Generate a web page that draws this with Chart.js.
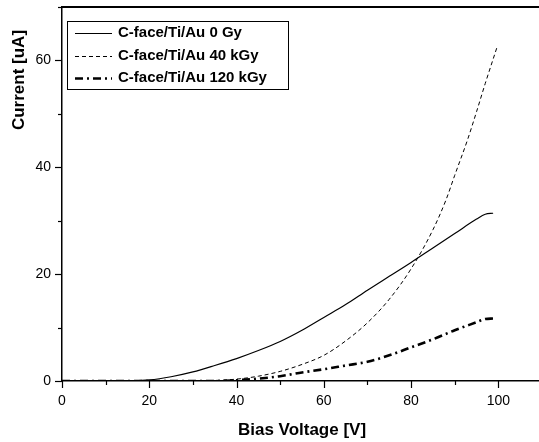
<!DOCTYPE html>
<html>
<head>
<meta charset="utf-8">
<script src="https://cdn.jsdelivr.net/npm/chart.js@4/dist/chart.umd.min.js"></script>
<style>
  html, body { margin: 0; padding: 0; background: #fff; overflow: hidden; }
  #wrap { width: 542px; height: 442px; position: relative; }
</style>
</head>
<body>
<div id="wrap"><canvas id="chart"></canvas></div>
<script>
const labels = ['C-face/Ti/Au 0 Gy', 'C-face/Ti/Au 40 kGy', 'C-face/Ti/Au 120 kGy'];

const volts0 = [0, 10, 15, 20, 25, 30, 35, 40, 45, 50, 55, 60, 65, 70, 75, 80, 85, 90, 95, 97, 98.8];
const curr0  = [0, 0, 0, 0.2, 0.8, 1.7, 2.9, 4.2, 5.7, 7.4, 9.5, 11.9, 14.3, 17.0, 19.6, 22.2, 24.9, 27.6, 30.3, 31.2, 31.4];

const volts40 = [0, 30, 35, 40, 45, 50, 55, 60, 65, 70, 75, 80, 85, 88, 90, 93, 95, 97, 99.7];
const curr40  = [0, 0, 0.1, 0.35, 0.9, 1.8, 3.1, 4.8, 7.5, 10.9, 15.3, 21.0, 28.3, 33.9, 38.5, 45.3, 50.4, 55.7, 62.5];

const volts120 = [0, 35, 40, 45, 50, 55, 60, 65, 70, 75, 80, 85, 90, 95, 97, 98.8];
const curr120  = [0, 0, 0.15, 0.45, 0.9, 1.6, 2.2, 2.9, 3.6, 4.8, 6.3, 7.8, 9.5, 11.0, 11.6, 11.7];

const xTicks = [0, 20, 40, 60, 80, 100];
const yTicks = [0, 20, 40, 60];

const FONT = '"Liberation Sans", Arial, sans-serif';

const toPoints = (xs, ys) => xs.map((x, i) => ({ x, y: ys[i] }));

// Rahmen, Ticks, Achsentitel und Legende im Plot
const decorations = {
    id: 'decorations',
    afterDraw(chart) {
        const { ctx, chartArea: a, scales: { x, y } } = chart;
        ctx.save();
        ctx.strokeStyle = '#000';
        ctx.fillStyle = '#000';

        // Rahmen oben
        ctx.lineWidth = 2;
        ctx.beginPath();
        ctx.moveTo(a.left, a.top);
        ctx.lineTo(a.right, a.top);
        ctx.stroke();

        // Ticks (gross/klein)
        ctx.lineWidth = 1.2;
        for (let v = 0; v <= 110; v += 10) {
            const px = Math.round(x.getPixelForValue(v)) + 0.5;
            const len = v % 20 === 0 ? 7 : 4;
            ctx.beginPath();
            ctx.moveTo(px, a.bottom);
            ctx.lineTo(px, a.bottom + len);
            ctx.stroke();
        }
        for (let v = 0; v <= 70; v += 10) {
            const py = Math.round(y.getPixelForValue(v)) + 0.5;
            const len = v % 20 === 0 ? 7 : 4;
            ctx.beginPath();
            ctx.moveTo(a.left, py);
            ctx.lineTo(a.left - len, py);
            ctx.stroke();
        }

        // Achsentitel
        ctx.font = 'bold 17px ' + FONT;
        ctx.textAlign = 'center';
        ctx.textBaseline = 'middle';
        ctx.fillText('Bias Voltage [V]', (a.left + a.right) / 2, 430);
        ctx.save();
        ctx.translate(19, 80);
        ctx.rotate(-Math.PI / 2);
        ctx.fillText('Current [uA]', 0, 0);
        ctx.restore();

        // Legende
        const box = { left: 67, top: 21, right: 288, bottom: 89 };
        ctx.lineWidth = 1;
        ctx.strokeRect(box.left + 0.5, box.top + 0.5, box.right - box.left, box.bottom - box.top);
        const rows = [33, 56, 78];
        ctx.font = 'bold 15px ' + FONT;
        ctx.textAlign = 'left';
        chart.data.datasets.forEach((ds, i) => {
            const ry = rows[i] + 0.5;
            ctx.save();
            ctx.lineWidth = ds.borderWidth;
            ctx.setLineDash(ds.borderDash || []);
            ctx.beginPath();
            ctx.moveTo(75, ry);
            ctx.lineTo(112, ry);
            ctx.stroke();
            ctx.restore();
            ctx.fillText(ds.label, 118, rows[i]);
        });
        ctx.restore();
    }
};

new Chart(document.getElementById('chart'), {
    type: 'line',
    data: {
        datasets: [
            {
                label: labels[0],
                data: toPoints(volts0, curr0),
                borderColor: '#000',
                borderWidth: 1.2,
                borderDash: []
            },
            {
                label: labels[1],
                data: toPoints(volts40, curr40),
                borderColor: '#000',
                borderWidth: 1,
                borderDash: [4, 3]
            },
            {
                label: labels[2],
                data: toPoints(volts120, curr120),
                borderColor: '#000',
                borderWidth: 2.6,
                borderDash: [8, 4, 2, 4]
            }
        ]
    },
    options: {
        responsive: true,
        maintainAspectRatio: false,
        animation: false,
        layout: { padding: { top: 7, right: 0, left: 0, bottom: 0 } },
        elements: {
            point: { radius: 0 },
            line: { tension: 0.4, cubicInterpolationMode: 'monotone', fill: false }
        },
        plugins: {
            legend: { display: false },
            tooltip: { enabled: false }
        },
        scales: {
            x: {
                type: 'linear',
                min: 0,
                max: 110,
                afterFit: (s) => { s.height = 61; s.paddingLeft = 0; s.paddingRight = 0; },
                grid: { display: false, drawTicks: false },
                border: { display: true, color: '#000', width: 1.5 },
                ticks: {
                    stepSize: 20,
                    padding: 12,
                    color: '#000',
                    font: { family: FONT, size: 14 },
                    callback: (v) => xTicks.includes(v) ? String(v) : ''
                }
            },
            y: {
                min: 0,
                max: 70,
                afterFit: (s) => { s.width = 62; s.paddingTop = 0; s.paddingBottom = 0; },
                grid: { display: false, drawTicks: false },
                border: { display: true, color: '#000', width: 1.5 },
                ticks: {
                    stepSize: 20,
                    padding: 11,
                    color: '#000',
                    font: { family: FONT, size: 14 },
                    callback: (v) => yTicks.includes(v) ? String(v) : ''
                }
            }
        }
    },
    plugins: [decorations]
});
</script>
</body>
</html>
